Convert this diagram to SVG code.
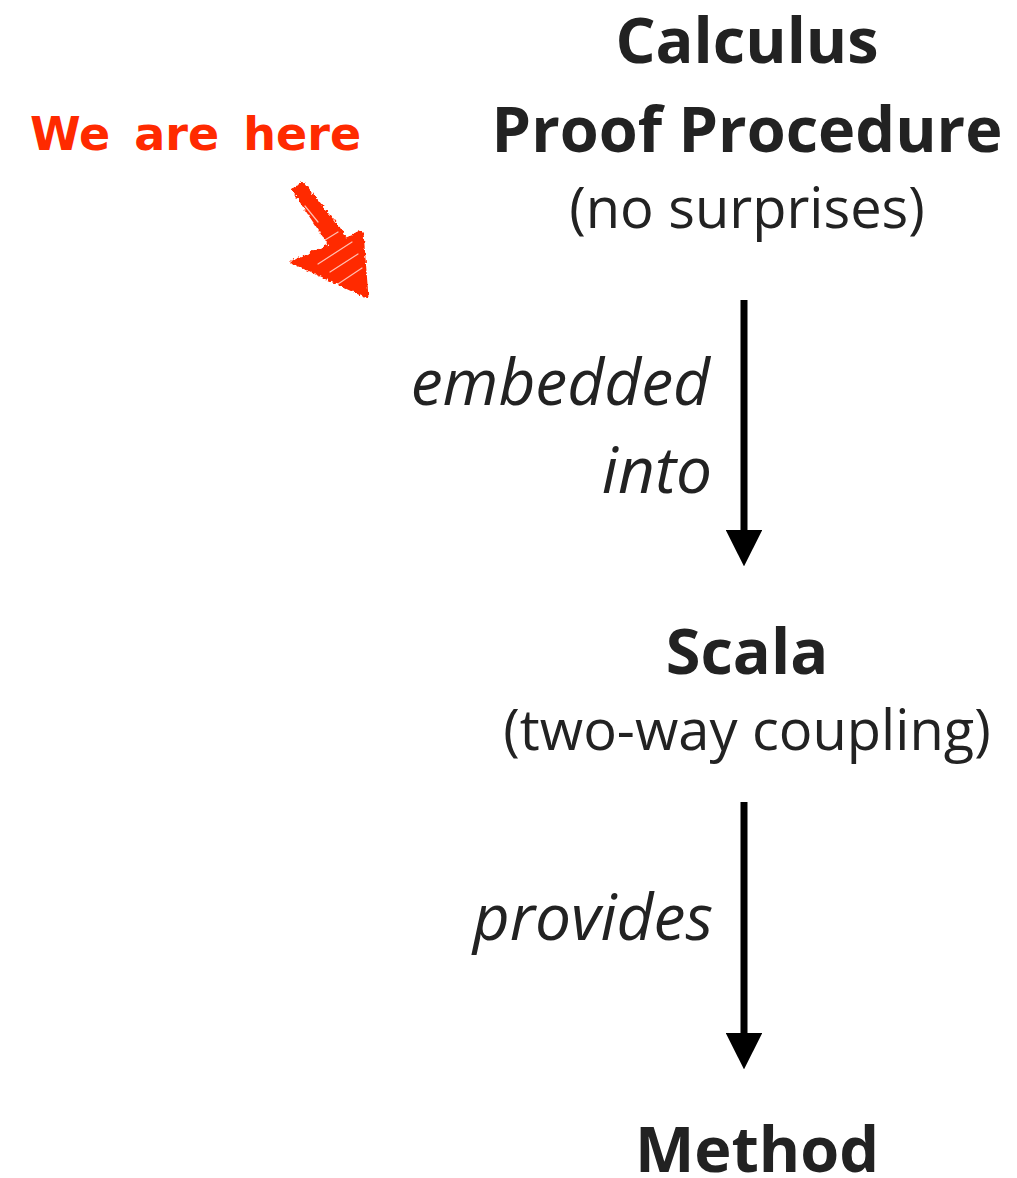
<svg xmlns="http://www.w3.org/2000/svg" width="1017" height="1178" viewBox="0 0 1017 1178">
  <style>
    .title { font-family: "Open Sans", "Noto Sans", sans-serif; font-weight: 700; font-size: 63px; fill: #222222; text-anchor: middle; }
    .sub { font-family: "Open Sans", "Noto Sans", sans-serif; font-weight: 400; font-size: 56px; fill: #222222; text-anchor: middle; }
    .edge-label { font-family: "Open Sans", "Noto Sans", sans-serif; font-style: italic; font-size: 64px; fill: #222222; text-anchor: end; }
    .edge { stroke: #000000; stroke-width: 7; fill: none; }
    .note { font-family: "DejaVu Sans", sans-serif; font-weight: 700; font-size: 46px; fill: #ff2a00; word-spacing: 8px; }
    .scratch { stroke: #ffffff; stroke-width: 1.2; stroke-linecap: round; opacity: 0.7; fill: none; }
  </style>
  <defs>
    <marker id="head" viewBox="0 0 10 10" refX="0" refY="5" markerWidth="5.2" markerHeight="5.2" markerUnits="strokeWidth" orient="auto">
      <path d="M0,0 L10,5 L0,10 z" fill="#000000"/>
    </marker>
    <filter id="rough" x="-20%" y="-20%" width="140%" height="140%">
      <feTurbulence type="fractalNoise" baseFrequency="0.3" numOctaves="2" seed="3" result="n"/>
      <feDisplacementMap in="SourceGraphic" in2="n" scale="5" xChannelSelector="R" yChannelSelector="G"/>
    </filter>
  </defs>

  <g id="node-calculus">
    <text class="title" x="747" y="63">Calculus</text>
    <text class="title" x="747" y="152">Proof Procedure</text>
    <text class="sub" x="747" y="228">(no surprises)</text>
  </g>

  <g id="node-scala">
    <text class="title" x="747" y="674">Scala</text>
    <text class="sub" x="747" y="750">(two-way coupling)</text>
  </g>

  <g id="node-method">
    <text class="title" x="757" y="1172">Method</text>
  </g>

  <g id="connectors">
    <line class="edge" x1="744" y1="300" x2="744" y2="530" marker-end="url(#head)"/>
    <text class="edge-label" x="710" y="405">embedded</text>
    <text class="edge-label" x="712" y="493">into</text>
    <line class="edge" x1="744" y1="802" x2="744" y2="1033" marker-end="url(#head)"/>
    <text class="edge-label" x="713" y="940">provides</text>
  </g>

  <g id="annotation">
    <text class="note" x="30" y="150">We are here</text>
    <!-- crayon-style pointer: shaft and head -->
    <g filter="url(#rough)" fill="#ff2a00" stroke="#ff2a00" stroke-linejoin="round">
      <path d="M294,190 L303,184 L344,236 L330,244 z" stroke-width="4"/>
      <path d="M292,262 L362,232 L367,297 z" stroke-width="3"/>
    </g>
    <g class="scratch">
      <path d="M312,248 L338,232"/>
      <path d="M318,264 L352,242"/>
      <path d="M330,272 L358,254"/>
      <path d="M338,284 L362,268"/>
      <path d="M305,206 L318,222"/>
    </g>
  </g>
</svg>
